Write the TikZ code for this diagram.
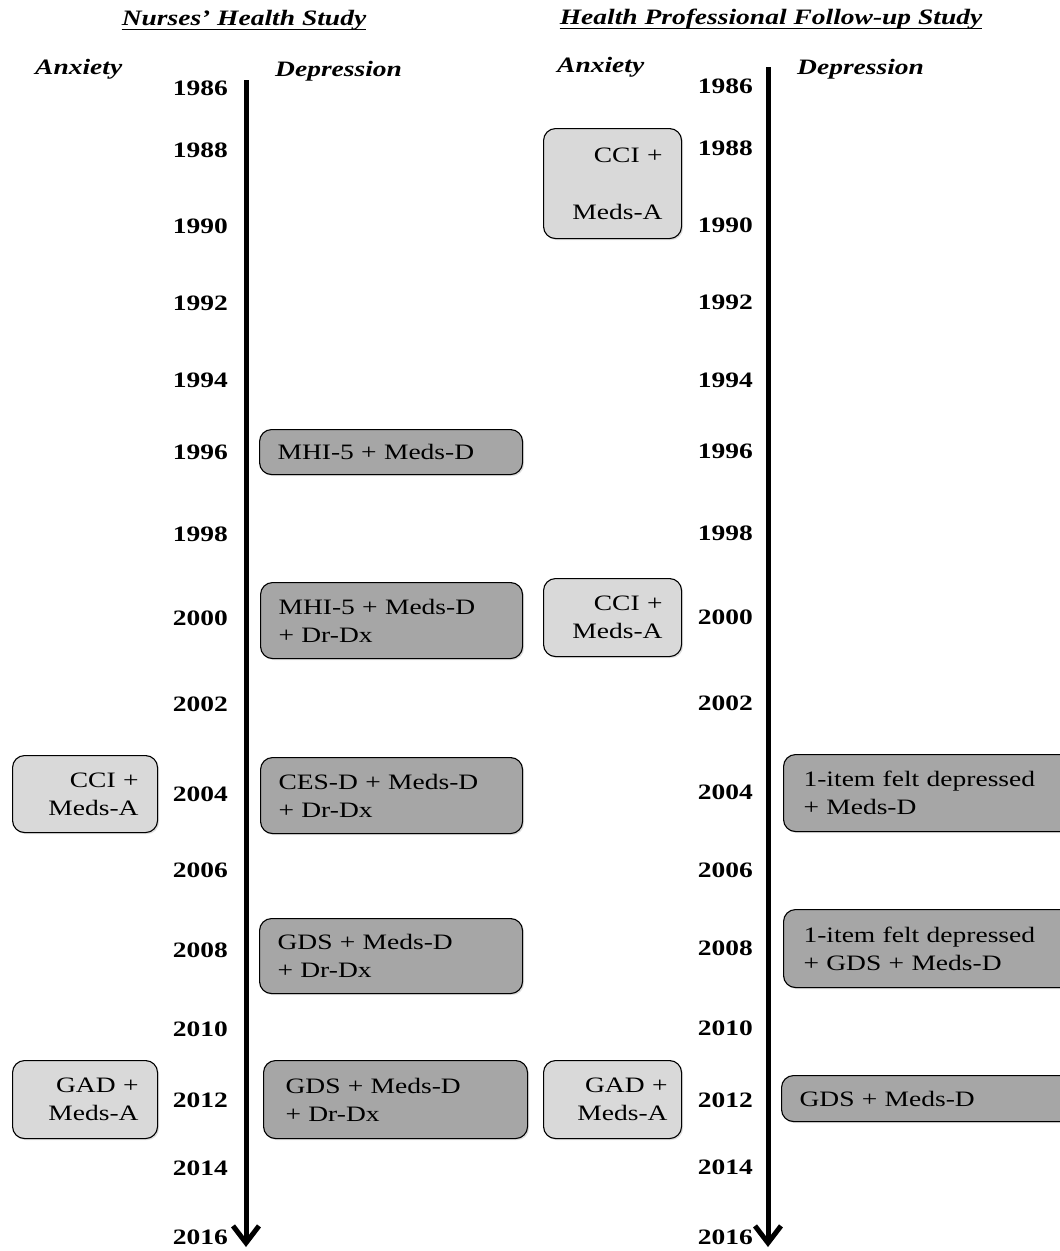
\documentclass[tikz,border=0pt]{standalone}
\usepackage{fontspec}
\setmainfont{Liberation Serif}[FakeStretch=1.25]
\usetikzlibrary{arrows.meta,shadows}
\definecolor{lightbox}{HTML}{D9D9D9}
\definecolor{darkbox}{HTML}{A6A6A6}
\begin{document}
\begin{tikzpicture}[x=1pt,y=-1pt,
  font=\fontsize{22}{28}\selectfont,
  yr/.style={font=\fontsize{22}{26}\selectfont\bfseries, anchor=east, inner sep=0pt},
  hdr/.style={font=\fontsize{22}{26}\selectfont\bfseries\itshape, anchor=base, inner sep=0pt},
  col/.style={font=\fontsize{22}{26}\selectfont\bfseries\itshape, anchor=base west, inner sep=0pt},
  uline/.style={line width=1.6pt},
  box/.style={draw=black, line width=1.1pt, rounded corners=12pt, inner ysep=0pt, anchor=north west,
    drop shadow={opacity=0.25, shadow xshift=1.5pt, shadow yshift=-1.5pt}},
  dbox/.style={box, fill=darkbox, align=left},
  lbox/.style={box, fill=lightbox, align=right},
  axisline/.style={line width=5pt, -{Straight Barb[length=17pt,width=26pt]}}
]
\useasboundingbox (0,0) rectangle (1060,1251);
\clip (0,0) rectangle (1060,1251);
\fill[white] (0,0) rectangle (1060,1251);

% headers
\node[hdr] (nhs) at (244,25) {Nurses’ Health Study};
\draw[uline] ([yshift=-4.5pt]nhs.base west) -- ([yshift=-4.5pt]nhs.base east);
\node[hdr] (hpfs) at (771,24) {Health Professional Follow-up Study};
\draw[uline] ([yshift=-4.5pt]hpfs.base west) -- ([yshift=-4.5pt]hpfs.base east);

\node[col] (anxL) at (35,74) {Anxiety};
\node[col] (depL) at (275,76) {Depression};
\node[col] (anxR) at (557,72) {Anxiety};
\node[col] (depR) at (797,74) {Depression};

% axes
\coordinate (lt) at (246,80);
\coordinate (lb) at (246,1247);
\coordinate (rt) at (768,67);
\coordinate (rb) at (768,1247);
\draw[axisline] (lt) -- (lb);
\draw[axisline] (rt) -- (rb);

% years left
\node[yr] (L1986) at (228,88) {1986};
\node[yr] (L1988) at (228,150) {1988};
\node[yr] (L1990) at (228,226) {1990};
\node[yr] (L1992) at (228,303) {1992};
\node[yr] (L1994) at (228,380) {1994};
\node[yr] (L1996) at (228,452) {1996};
\node[yr] (L1998) at (228,534) {1998};
\node[yr] (L2000) at (228,618) {2000};
\node[yr] (L2002) at (228,704) {2002};
\node[yr] (L2004) at (228,794) {2004};
\node[yr] (L2006) at (228,870) {2006};
\node[yr] (L2008) at (228,950) {2008};
\node[yr] (L2010) at (228,1029) {2010};
\node[yr] (L2012) at (228,1100) {2012};
\node[yr] (L2014) at (228,1168) {2014};
\node[yr] (L2016) at (228,1237) {2016};

% years right
\node[yr] (R1986) at (753,86) {1986};
\node[yr] (R1988) at (753,148) {1988};
\node[yr] (R1990) at (753,225) {1990};
\node[yr] (R1992) at (753,302) {1992};
\node[yr] (R1994) at (753,380) {1994};
\node[yr] (R1996) at (753,451) {1996};
\node[yr] (R1998) at (753,533) {1998};
\node[yr] (R2000) at (753,617) {2000};
\node[yr] (R2002) at (753,703) {2002};
\node[yr] (R2004) at (753,792) {2004};
\node[yr] (R2006) at (753,870) {2006};
\node[yr] (R2008) at (753,948) {2008};
\node[yr] (R2010) at (753,1028) {2010};
\node[yr] (R2012) at (753,1100) {2012};
\node[yr] (R2014) at (753,1167) {2014};
\node[yr] (R2016) at (753,1237) {2016};

% NHS depression boxes
\node[dbox, inner xsep=18pt, text width=227pt, minimum height=45pt] (nd1996) at (259,429) {MHI-5 + Meds-D};
\node[dbox, inner xsep=18pt, text width=226pt, minimum height=76pt] (nd2000) at (260,582) {MHI-5 + Meds-D\\+ Dr-Dx};
\node[dbox, inner xsep=18pt, text width=226pt, minimum height=76pt] (nd2004) at (260,757) {CES-D + Meds-D\\+ Dr-Dx};
\node[dbox, inner xsep=18pt, text width=227pt, minimum height=75pt] (nd2008) at (259,918) {GDS + Meds-D\\+ Dr-Dx};
\node[dbox, inner xsep=22pt, text width=220pt, minimum height=78pt] (nd2012) at (263,1060) {GDS + Meds-D\\+ Dr-Dx};

% NHS anxiety boxes
\node[lbox, inner xsep=19pt, text width=107pt, minimum height=77pt] (na2004) at (12,755) {CCI +\\Meds-A};
\node[lbox, inner xsep=19pt, text width=107pt, minimum height=78pt] (na2012) at (12,1060) {GAD +\\Meds-A};

% HPFS anxiety boxes
\node[lbox, inner xsep=19pt, text width=100pt, minimum height=110pt] (ha1988) at (543,128) {CCI +\\[29pt]Meds-A};
\node[lbox, inner xsep=19pt, text width=100pt, minimum height=78pt] (ha2000) at (543,578) {CCI +\\Meds-A};
\node[lbox, inner xsep=14pt, text width=110pt, minimum height=78pt] (ha2012) at (543,1060) {GAD +\\Meds-A};

% HPFS depression boxes
\node[dbox, inner xsep=20pt, text width=250pt, minimum height=77pt] (hd2004) at (783,754) {1-item felt depressed\\+ Meds-D};
\node[dbox, inner xsep=20pt, text width=250pt, minimum height=78pt] (hd2008) at (783,909) {1-item felt depressed\\+ GDS + Meds-D};
\node[dbox, inner xsep=18pt, text width=256pt, minimum height=46pt] (hd2012) at (781,1075) {GDS + Meds-D};
\end{tikzpicture}
\end{document}
